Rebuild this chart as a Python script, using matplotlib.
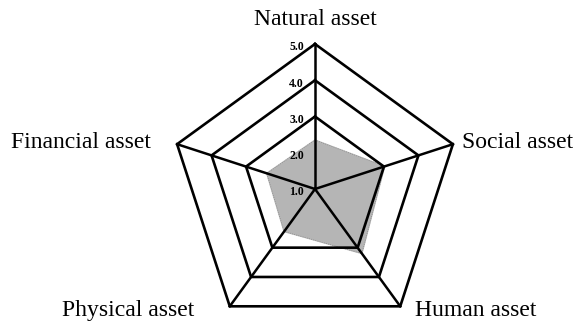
import numpy as np
import matplotlib.pyplot as plt

# --- datos ---
ejes = ['Natural asset', 'Social asset', 'Human asset', 'Physical asset', 'Financial asset']
valores = [2.35, 3.02, 3.2, 2.45, 2.4]
niveles = [3.0, 4.0, 5.0]
etiquetas_r = ['1.0', '2.0', '3.0', '4.0', '5.0']
r_min = 1.0

# angulos: empieza arriba y gira en sentido horario
ang = np.pi/2 - 2*np.pi*np.arange(len(ejes))/len(ejes)


def xy(v, a):
    r = np.asarray(v) - r_min
    return r*np.cos(a), r*np.sin(a)


fig = plt.figure(figsize=(5.78, 3.25), dpi=100)
ax = fig.add_axes([0, 0, 1, 1])
# 1 unidad = 36.25 px, centro en (315, 189) px
u = 36.25
ax.set_xlim(-315/u, (578-315)/u)
ax.set_ylim(-(325-189)/u, 189/u)
ax.axis('off')

# area gris
px, py = xy(valores, ang)
ax.fill(px, py, color='#b5b5b5', zorder=1)
ax.plot(np.append(px, px[0]), np.append(py, py[0]), color='#8a8a8a', lw=0.6, ls=':', zorder=1)

# rejilla pentagonal
for n in niveles:
    gx, gy = xy([n]*len(ejes), ang)
    ax.plot(np.append(gx, gx[0]), np.append(gy, gy[0]), color='black', lw=1.9,
            solid_joinstyle='miter', zorder=2)

# radios
for a in ang:
    sx, sy = xy([r_min, niveles[-1]], a)
    ax.plot(sx, sy, color='black', lw=1.8, zorder=2)

# etiquetas de escala en el eje superior
for k, t in enumerate(etiquetas_r):
    ax.text(-0.3, float(t) - r_min - 0.09, t, ha='right', va='center', fontsize=8.5,
            fontweight='bold', family='Liberation Serif', zorder=3)

# nombres de los ejes
pos = [(0, 4.68, 'center'), (4.06, 1.27, 'left'), (2.76, -3.34, 'left'),
       (-6.97, -3.34, 'left'), (-8.38, 1.27, 'left')]
for nombre, (tx, ty, ha) in zip(ejes, pos):
    ax.text(tx, ty, nombre, ha=ha, va='center', fontsize=17, family='Liberation Serif')

fig.savefig('out.png', dpi=100, facecolor='white')
